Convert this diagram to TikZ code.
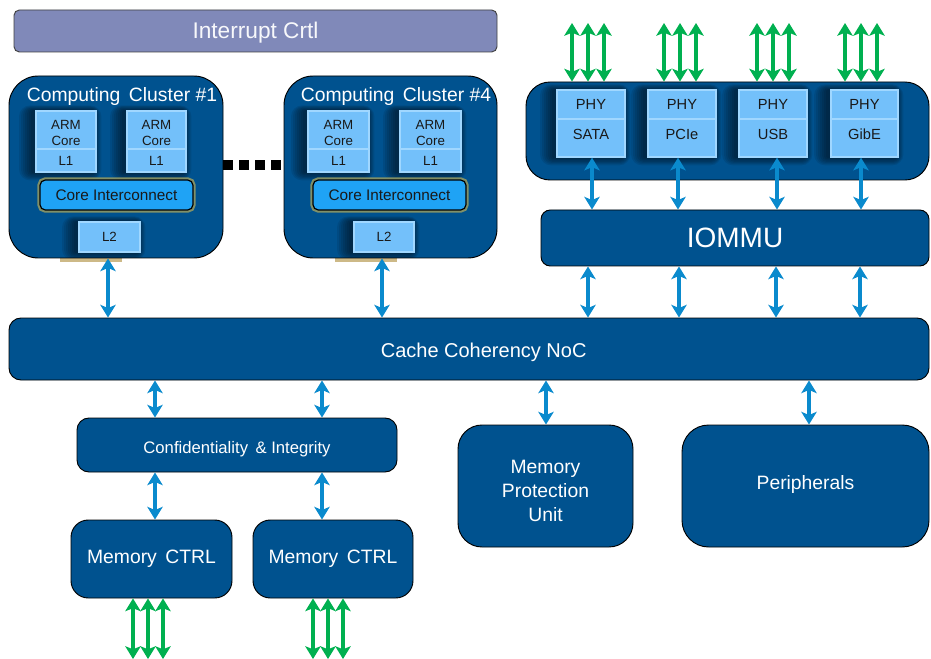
\documentclass[tikz,border=0pt]{standalone}
\usepackage{fontspec}
\setmainfont{Liberation Sans}
\usetikzlibrary{arrows.meta}

\definecolor{navy}{RGB}{0,82,143}
\definecolor{lav}{RGB}{128,137,185}
\definecolor{cell}{RGB}{115,192,250}
\definecolor{cellrim}{RGB}{160,215,255}
\definecolor{bus}{RGB}{31,163,245}
\definecolor{glow}{RGB}{160,160,95}
\definecolor{link}{RGB}{10,138,205}
\definecolor{pin}{RGB}{0,176,80}
\definecolor{ink}{RGB}{25,25,25}
\definecolor{sand}{RGB}{205,185,135}

% block from pixel corners: name, style, x1, y1, x2, y2, text
\newcommand\blk[7]{\node[#2,minimum width={((#5)-(#3))*0.75pt},minimum height={((#6)-(#4))*0.75pt}] (#1) at ({((#3)+(#5))/2},{((#4)+(#6))/2}) {#7};}
% move a line of text vertically without changing its box
\newcommand\up[2]{\raisebox{#1}[\height][\depth]{#2}}
% soft dark halo behind a cell, heavier on its left side
\newcommand\halo[4]{\foreach \r in {2,4,...,14} {
  \fill[black, opacity=0.085, rounded corners={\r*0.6pt}]
    ({#1-\r-3},{#2-\r*0.4}) rectangle ({#3+\r*0.6-3},{#4+\r*0.6});}}

\tikzset{
  dark/.style={draw=black, line width=0.7pt, fill=navy, rounded corners=#1,
    inner sep=0pt, text=white, align=center},
  dark/.default=8pt,
  cellflat/.style={draw=cellrim, line width=1pt, fill=cell, inner sep=0pt,
    text=ink, align=center, font=\fontsize{10}{12}\selectfont},
  phy/.style={cellflat, font=\fontsize{11}{13}\selectfont},
  busbox/.style={draw=black, line width=0.9pt, fill=bus, rounded corners=4pt,
    inner sep=0pt, text=ink, font=\fontsize{11.5}{13}\selectfont,
    preaction={draw=glow, line width=4pt, opacity=0.8}},
  linkarrow/.style={draw=link, line width=3pt, {Stealth[length=9.5pt,width=11.5pt,inset=2.4pt]}-{Stealth[length=9.5pt,width=11.5pt,inset=2.4pt]}},
  pinarrow/.style={draw=pin, line width=3pt, {Stealth[length=9.5pt,width=11.5pt,inset=2.2pt]}-{Stealth[length=9.5pt,width=11.5pt,inset=2.2pt]}},
  title/.style={text=white, inner sep=0pt, font=\fontsize{14.5}{16}\selectfont}
}

\begin{document}
\begin{tikzpicture}[x=0.75pt, y=-0.75pt]
\useasboundingbox (0,0) rectangle (931,659);
\clip (0,0) rectangle (931,659);

% interrupt controller
\blk{irq}{draw=black!75, line width=0.7pt, fill=lav, rounded corners=4pt, inner sep=0pt, text=white!94!lav, font=\fontsize{17}{19}\selectfont}{14}{10}{497}{52}{\up{-1.5pt}{Interrupt Crtl}}

% computing clusters
\fill[sand] (60,256) rectangle (122,262);
\fill[sand] (335,256) rectangle (397,262);
\blk{c1}{dark=22pt}{9}{76}{223}{258}{}
\blk{c4}{dark=22pt}{284}{76}{497}{258}{}
\node[title] (c1t) at (122,97) {Computing\, Cluster \#1};
\node[title] (c4t) at (396,97) {Computing\, Cluster \#4};

% shading under the cells of both clusters
\begin{scope}
\clip[rounded corners=16.5pt] (9,76) rectangle (223,258);
\halo{36}{111}{96}{172}
\halo{127}{111}{186}{172}
\halo{79}{222}{140}{252}
\end{scope}
\begin{scope}
\clip[rounded corners=16.5pt] (284,76) rectangle (497,258);
\halo{308}{111}{369}{172}
\halo{400}{111}{461}{172}
\halo{354}{222}{414}{252}
\end{scope}

% cores of cluster 1
\blk{c1aC}{cellflat}{36}{111}{96}{149}{\up{-2pt}{ARM}\\\up{-2pt}{Core}}
\blk{c1aL}{cellflat}{36}{149}{96}{172}{L1}
\blk{c1bC}{cellflat}{127}{111}{186}{149}{\up{-2pt}{ARM}\\\up{-2pt}{Core}}
\blk{c1bL}{cellflat}{127}{149}{186}{172}{L1}
\blk{c1x}{busbox}{40}{180}{193}{210}{Core Interconnect}
\blk{c1l2}{cellflat}{79}{222}{140}{252}{L2}

% cores of cluster 4
\blk{c4aC}{cellflat}{308}{111}{369}{149}{\up{-2pt}{ARM}\\\up{-2pt}{Core}}
\blk{c4aL}{cellflat}{308}{149}{369}{172}{L1}
\blk{c4bC}{cellflat}{400}{111}{461}{149}{\up{-2pt}{ARM}\\\up{-2pt}{Core}}
\blk{c4bL}{cellflat}{400}{149}{461}{172}{L1}
\blk{c4x}{busbox}{313}{180}{466}{210}{Core Interconnect}
\blk{c4l2}{cellflat}{354}{222}{414}{252}{L2}

% ellipsis between the clusters
\coordinate (dotsy) at (0,165);
\draw[line width=7.5pt, dash pattern=on 7.5pt off 4.5pt] (c1.east |- dotsy) -- (c4.west |- dotsy);

% I/O PHY block
\blk{io}{dark=18pt}{526}{82}{929}{180}{}
\begin{scope}
\clip[rounded corners=13.5pt] (526,82) rectangle (929,180);
\halo{557}{90}{625}{157}
\halo{648}{90}{716}{157}
\halo{739}{90}{807}{157}
\halo{831}{90}{898}{157}
\end{scope}
\blk{psA}{phy}{557}{90}{625}{119}{PHY}
\blk{psB}{phy}{557}{119}{625}{157}{\up{3pt}{SATA}}
\blk{ppA}{phy}{648}{90}{716}{119}{PHY}
\blk{ppB}{phy}{648}{119}{716}{157}{\up{3pt}{PCIe}}
\blk{puA}{phy}{739}{90}{807}{119}{PHY}
\blk{puB}{phy}{739}{119}{807}{157}{\up{3pt}{USB}}
\blk{pgA}{phy}{831}{90}{898}{119}{PHY}
\blk{pgB}{phy}{831}{119}{898}{157}{\up{3pt}{GibE}}

% IOMMU and NoC
\blk{iommu}{dark=7pt, font=\fontsize{21}{24}\selectfont}{541}{210}{929}{266}{IOMMU}
\blk{noc}{dark=9pt}{9}{318}{929}{380}{}
\node[title, font=\fontsize{15}{17}\selectfont] (noct) at ([xshift=11pt,yshift=-2.5pt]noc.center) {Cache Coherency NoC};

% memory side
\blk{ci}{dark=9pt, font=\fontsize{12.5}{15}\selectfont}{77}{418}{397}{472}{\up{-3pt}{Confidentiality\, \& Integrity}}
\blk{mc1}{dark=13pt, font=\fontsize{14.5}{17}\selectfont}{71}{520}{232}{598}{Memory\, CTRL}
\blk{mc2}{dark=13pt, font=\fontsize{14.5}{17}\selectfont}{253}{520}{413}{598}{Memory\, CTRL}
\blk{mpu}{dark=18pt, font=\fontsize{14.5}{18}\selectfont}{458}{425}{633}{547}{\up{-3.5pt}{Memory}\\\up{-3.5pt}{Protection}\\\up{-3.5pt}{Unit}}
\blk{per}{dark=20pt, font=\fontsize{14.5}{17}\selectfont}{682}{425}{929}{547}{\up{1.5pt}{Peripherals}}

% blue links
\foreach \x/\a/\b in {108/c1/noc, 382/c4/noc,
    592/psB/iommu, 678/ppB/iommu, 777/puB/iommu, 861/pgB/iommu,
    588/iommu/noc, 679/iommu/noc, 776/iommu/noc, 860/iommu/noc,
    155/noc/ci, 322/noc/ci, 546/noc/mpu, 809/noc/per,
    155/ci/mc1, 322/ci/mc2} {
  \coordinate (lx) at (\x,0);
  \draw[linkarrow] (lx |- \a.south) -- (lx |- \b.north);
}

% green external pins
\coordinate (topy) at (0,23);
\coordinate (boty) at (0,659);
\foreach \x in {588, 680, 773, 861} {
  \foreach \d in {-16,0,16} {
    \coordinate (gx) at (\x+\d,0);
    \draw[pinarrow] (gx |- topy) -- (gx |- io.north);
  }
}
\foreach \x/\n in {148/mc1, 328/mc2} {
  \foreach \d in {-15,0,15} {
    \coordinate (gx) at (\x+\d,0);
    \draw[pinarrow] (gx |- \n.south) -- (gx |- boty);
  }
}
\end{tikzpicture}
\end{document}
